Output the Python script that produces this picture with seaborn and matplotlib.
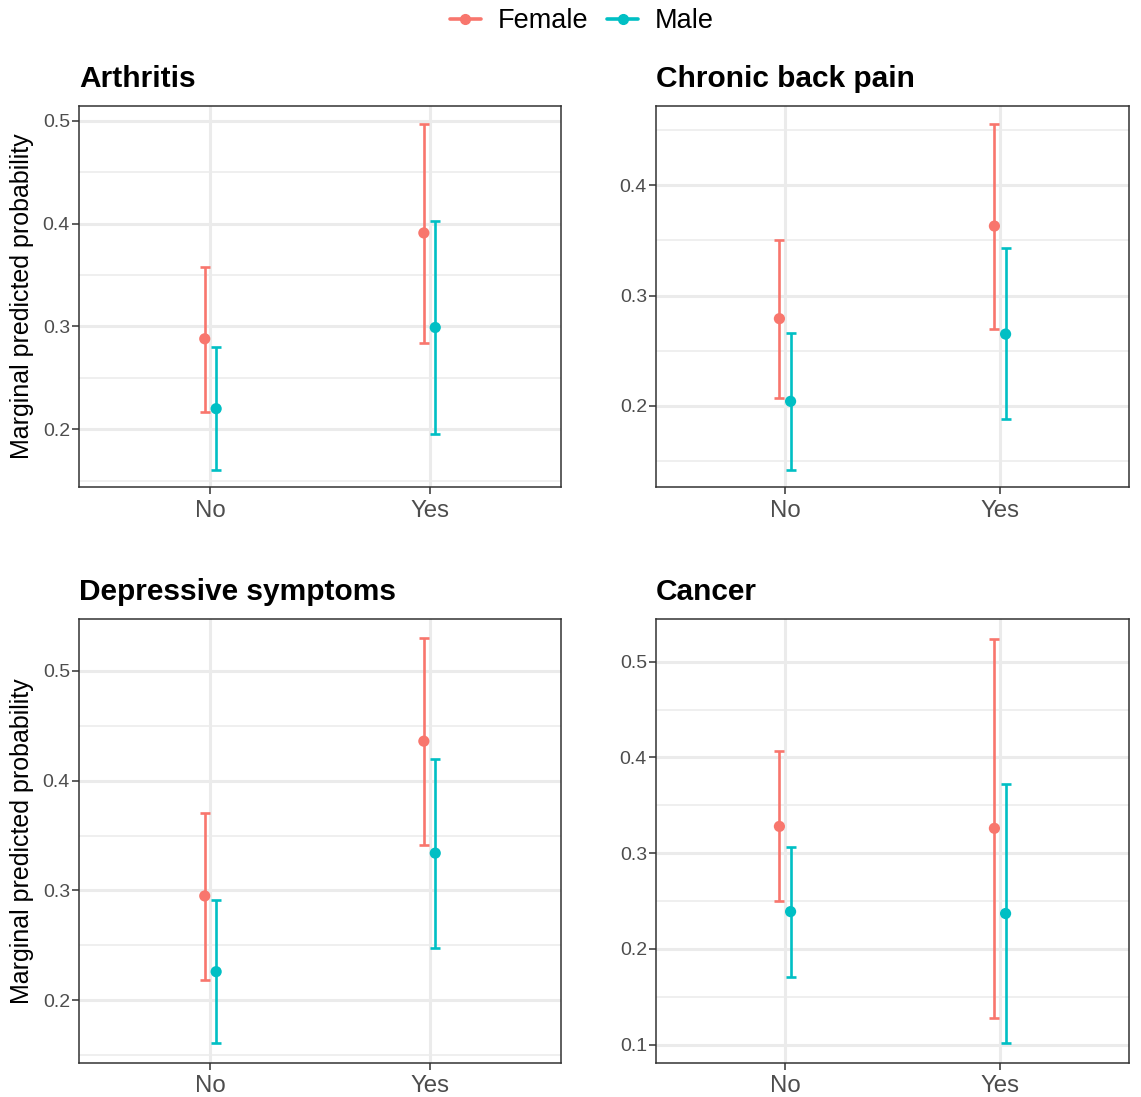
import numpy as np
import pandas as pd
import seaborn as sns
import matplotlib.pyplot as plt
from matplotlib.lines import Line2D
from matplotlib.ticker import FixedLocator

sns.set_style("white")
plt.rcParams['font.family'] = ['Liberation Sans', 'DejaVu Sans']
plt.rcParams['text.color'] = 'black'

# data: order of rows is (No, Female), (No, Male), (Yes, Female), (Yes, Male)
conditions = ["Arthritis", "Chronic back pain", "Depressive symptoms", "Cancer"]
levels = ["No", "Yes"]
sexes = ["Female", "Male"]

arthritis_est = [0.288, 0.220, 0.391, 0.299]
arthritis_lo = [0.217, 0.160, 0.284, 0.195]
arthritis_hi = [0.358, 0.280, 0.497, 0.403]

backpain_est = [0.279, 0.204, 0.363, 0.265]
backpain_lo = [0.207, 0.142, 0.270, 0.188]
backpain_hi = [0.350, 0.266, 0.456, 0.343]

depress_est = [0.295, 0.226, 0.436, 0.334]
depress_lo = [0.218, 0.161, 0.341, 0.248]
depress_hi = [0.371, 0.291, 0.530, 0.420]

cancer_est = [0.328, 0.239, 0.326, 0.237]
cancer_lo = [0.250, 0.171, 0.128, 0.102]
cancer_hi = [0.407, 0.307, 0.524, 0.372]

panels = {
    "Arthritis": (arthritis_est, arthritis_lo, arthritis_hi),
    "Chronic back pain": (backpain_est, backpain_lo, backpain_hi),
    "Depressive symptoms": (depress_est, depress_lo, depress_hi),
    "Cancer": (cancer_est, cancer_lo, cancer_hi),
}

ylims = {
    "Arthritis": (0.1438, 0.5145),
    "Chronic back pain": (0.1263, 0.4719),
    "Depressive symptoms": (0.1428, 0.5473),
    "Cancer": (0.0809, 0.5446),
}
major = {
    "Arthritis": [0.2, 0.3, 0.4, 0.5],
    "Chronic back pain": [0.2, 0.3, 0.4],
    "Depressive symptoms": [0.2, 0.3, 0.4, 0.5],
    "Cancer": [0.1, 0.2, 0.3, 0.4, 0.5],
}
minor = [0.15, 0.25, 0.35, 0.45]

colors = {"Female": "#F8766D", "Male": "#00BFC4"}
dodge = {"Female": -0.026, "Male": 0.026}

W, H = 1141, 1097
fig = plt.figure(figsize=(W / 100, H / 100), dpi=100)

# axes boxes in pixels: left, top, right, bottom
boxes = [(79, 106, 561, 487), (656, 106, 1129, 487),
         (79, 619, 561, 1063), (656, 619, 1129, 1063)]

for i, (cond, box) in enumerate(zip(conditions, boxes)):
    l, t, r, b = box
    ax = fig.add_axes([l / W, 1 - b / H, (r - l) / W, (b - t) / H])
    est, lo, hi = panels[cond]
    df = pd.DataFrame({
        "level": [lv for lv in levels for _ in sexes],
        "sex": sexes * len(levels),
        "est": est, "lo": lo, "hi": hi,
    })
    df["x"] = df["level"].map({lv: k for k, lv in enumerate(levels)}) + df["sex"].map(dodge)

    for sex in sexes:
        d = df[df["sex"] == sex]
        ax.errorbar(d["x"], d["est"], yerr=[d["est"] - d["lo"], d["hi"] - d["est"]],
                    fmt="none", ecolor=colors[sex], elinewidth=1.9, capsize=3.8,
                    capthick=1.9, zorder=3)
    sns.scatterplot(data=df, x="x", y="est", hue="sex", palette=colors, s=65,
                    linewidth=0, legend=False, ax=ax, zorder=4)

    ax.set_xlim(-0.6, 1.6)
    ax.set_ylim(*ylims[cond])
    ax.set_xticks([0, 1])
    ax.set_xticklabels(levels)
    ax.yaxis.set_major_locator(FixedLocator(major[cond]))
    ax.yaxis.set_minor_locator(FixedLocator(minor))
    ax.set_yticklabels([f"{v:g}" for v in major[cond]])
    ax.grid(which="major", color="#EBEBEB", linewidth=2.2)
    ax.grid(which="minor", axis="y", color="#EBEBEB", linewidth=1.1)
    ax.set_axisbelow(True)
    for sp in ax.spines.values():
        sp.set_color("#333333")
        sp.set_linewidth(1.1)
    ax.tick_params(axis="both", which="major", length=5, width=1.1, color="#333333",
                   left=True, bottom=True)
    ax.tick_params(axis="y", which="major", labelsize=14, labelcolor="#4D4D4D", pad=1.5)
    ax.tick_params(axis="x", which="major", labelsize=17.3, labelcolor="#4D4D4D", pad=4)
    ax.tick_params(which="minor", length=0)
    ax.set_xlabel("")
    if i % 2 == 0:
        ax.set_ylabel("Marginal predicted probability", fontsize=18, color="black")
        ax.yaxis.set_label_coords(-0.093, 0.5)
    else:
        ax.set_ylabel("")
    ax.set_title(cond, loc="left", fontsize=21.5, fontweight="bold", color="black",
                 pad=13.5)

handles = [Line2D([], [], color=colors[s], marker="o", markersize=7, linewidth=2.6)
           for s in sexes]
fig.legend(handles, sexes, loc="center", bbox_to_anchor=(582 / W, 1 - 21 / H), ncol=2,
           frameon=False, fontsize=19.5, handlelength=1.15, handletextpad=0.62,
           columnspacing=0.7, labelcolor="black")

fig.savefig("out.png", dpi=100)
